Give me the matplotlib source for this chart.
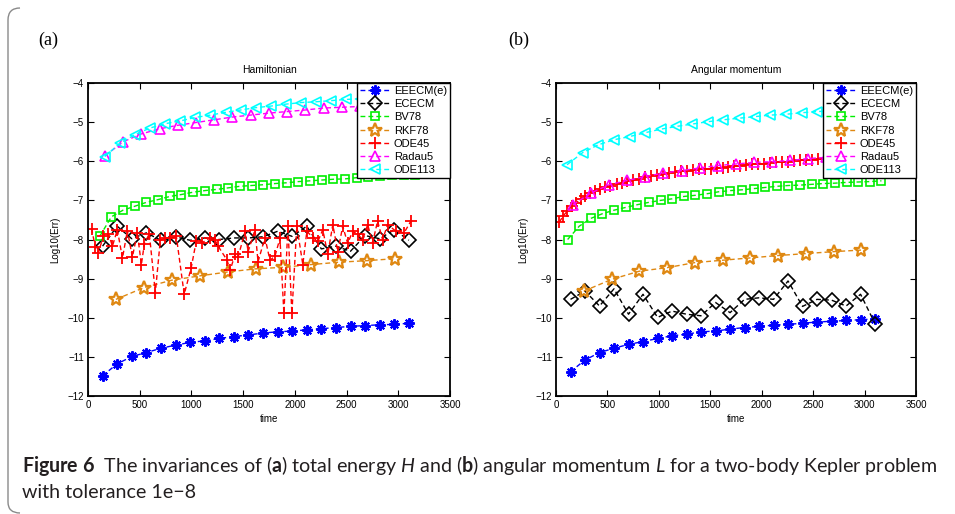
import matplotlib
matplotlib.use('Agg')
import matplotlib.pyplot as plt
from matplotlib.path import Path
from matplotlib.patches import PathPatch

# ---------------------------------------------------------------- data
methods = ['EEECM(e)', 'ECECM', 'BV78', 'RKF78', 'ODE45', 'Radau5', 'ODE113']

t_ee = [141, 282, 423, 564, 705, 846, 987, 1128, 1269, 1410, 1551, 1692,
        1833, 1974, 2115, 2256, 2397, 2538, 2679, 2820, 2961, 3102]
t_bv = [113, 226, 339, 452, 565, 678, 791, 904, 1017, 1130, 1243, 1356, 1469,
        1582, 1695, 1808, 1921, 2034, 2147, 2260, 2373, 2486, 2599, 2712,
        2825, 2938, 3051, 3164]
t_rk = [270, 540, 810, 1080, 1350, 1620, 1890, 2160, 2430, 2700, 2970]
t_ra = [165, 341, 517, 693, 869, 1045, 1221, 1397, 1573, 1749, 1925, 2101,
        2277, 2453, 2629, 2805, 2981, 3157]

# (a) Hamiltonian
ham_eeecm = [-11.48, -11.18, -10.99, -10.89, -10.78, -10.70, -10.63, -10.59,
             -10.53, -10.48, -10.44, -10.39, -10.36, -10.34, -10.31, -10.28,
             -10.25, -10.22, -10.20, -10.18, -10.17, -10.14]
ham_ececm = [-8.17, -7.66, -7.98, -7.83, -8.02, -7.93, -8.02, -7.96, -8.00,
             -7.96, -7.96, -7.93, -7.79, -7.92, -7.66, -8.24, -8.17, -8.30,
             -7.90, -7.98, -7.75, -8.02]
ham_bv78 = [-7.92, -7.42, -7.25, -7.15, -7.05, -6.98, -6.90, -6.85, -6.79,
            -6.75, -6.72, -6.68, -6.64, -6.62, -6.60, -6.57, -6.55, -6.52,
            -6.50, -6.48, -6.46, -6.45, -6.42, -6.39, -6.37, -6.36, -6.35,
            -6.34]
ham_rkf78 = [-9.53, -9.23, -9.04, -8.93, -8.83, -8.75, -8.71, -8.64, -8.58,
             -8.54, -8.49]
ham_t45 = [34, 72, 101, 149, 198, 236, 284, 333, 381, 429, 477, 516, 545, 593,
           651, 699, 747, 795, 853, 930, 998, 1046, 1104, 1181, 1229, 1258,
           1345, 1374, 1422, 1451, 1519, 1548, 1615, 1644, 1711, 1759, 1807,
           1856, 1894, 1933, 1971, 2019, 2077, 2116, 2174, 2222, 2270, 2318,
           2367, 2415, 2463, 2511, 2559, 2607, 2656, 2704, 2752, 2800, 2848,
           2897, 2978, 3056, 3124]
ham_ode45 = [-7.72, -8.20, -8.34, -7.90, -7.85, -8.17, -7.75, -8.48, -7.77,
             -8.45, -7.83, -8.64, -8.11, -7.85, -9.36, -8.02, -7.96, -7.96,
             -7.90, -9.40, -8.72, -8.05, -8.08, -7.96, -8.02, -8.17, -8.53,
             -8.79, -8.38, -8.45, -7.79, -8.31, -7.75, -8.57, -7.95, -8.53,
             -8.43, -7.97, -9.89, -7.66, -9.89, -7.66, -8.64, -7.79, -7.95,
             -8.05, -7.75, -8.38, -7.62, -8.31, -7.66, -8.10, -7.79, -7.87,
             -8.00, -7.62, -8.08, -7.53, -8.00, -7.62, -7.79, -7.83, -7.52]
ham_radau5 = [-5.86, -5.50, -5.30, -5.17, -5.08, -5.01, -4.94, -4.87, -4.82,
              -4.77, -4.73, -4.69, -4.64, -4.62, -4.60, -4.58, -4.56, -4.54]
ham_t113 = [162, 308, 454, 600, 746, 892, 1038, 1184, 1330, 1476, 1622, 1768,
            1914, 2060, 2206, 2352, 2498, 2644, 2790, 2936, 3082]
ham_ode113 = [-5.88, -5.54, -5.32, -5.15, -5.04, -4.97, -4.88, -4.82, -4.75,
              -4.69, -4.63, -4.59, -4.54, -4.50, -4.48, -4.45, -4.42, -4.40,
              -4.38, -4.36, -4.34]

# (b) Angular momentum
ang_eeecm = [-11.38, -11.08, -10.89, -10.78, -10.68, -10.61, -10.53, -10.46,
             -10.42, -10.36, -10.34, -10.29, -10.25, -10.22, -10.19, -10.17,
             -10.14, -10.11, -10.09, -10.07, -10.05, -10.03]
ang_ececm = [-9.53, -9.32, -9.70, -9.26, -9.91, -9.40, -9.99, -9.83, -9.91,
             -9.95, -9.61, -9.87, -9.53, -9.49, -9.53, -9.06, -9.71, -9.53,
             -9.55, -9.70, -9.40, -10.15]
ang_bv78 = [-8.00, -7.66, -7.46, -7.34, -7.25, -7.18, -7.11, -7.05, -7.00,
            -6.96, -6.90, -6.87, -6.83, -6.78, -6.75, -6.73, -6.70, -6.67,
            -6.64, -6.62, -6.61, -6.59, -6.57, -6.56, -6.54, -6.53, -6.52,
            -6.50]
ang_rkf78 = [-9.32, -9.02, -8.81, -8.72, -8.59, -8.53, -8.47, -8.41, -8.36,
             -8.31, -8.27]
ang_t45 = [32, 71, 110, 153, 194, 240, 282, 330, 379, 428, 476, 525, 590, 639,
           693, 751, 810, 865, 923, 981, 1039, 1097, 1155, 1213, 1271, 1329,
           1387, 1445, 1503, 1561, 1619, 1677, 1735, 1793, 1851, 1909, 1967,
           2025, 2083, 2141, 2199, 2257, 2315, 2373, 2431, 2489, 2547, 2605,
           2663]
ang_ode45 = [-7.56, -7.39, -7.28, -7.15, -7.07, -6.96, -6.90, -6.81, -6.77,
             -6.71, -6.66, -6.62, -6.58, -6.56, -6.51, -6.49, -6.45, -6.40,
             -6.37, -6.34, -6.32, -6.30, -6.28, -6.26, -6.25, -6.23, -6.21,
             -6.20, -6.19, -6.18, -6.17, -6.15, -6.13, -6.11, -6.10, -6.08,
             -6.07, -6.06, -6.05, -6.03, -6.02, -6.01, -6.00, -5.98, -5.97,
             -5.96, -5.95, -5.94, -5.93]
ang_radau5 = [-7.11, -6.81, -6.60, -6.49, -6.39, -6.30, -6.24, -6.17, -6.11,
              -6.07, -6.03, -6.01, -5.98, -5.93, -5.90, -5.88, -5.86, -5.84]
ang_t113 = [107, 259, 411, 563, 715, 867, 1019, 1171, 1323, 1475, 1627, 1779,
            1931, 2083, 2235, 2387, 2539, 2691, 2843, 2995, 3147]
ang_ode113 = [-6.09, -5.78, -5.58, -5.45, -5.37, -5.27, -5.18, -5.11, -5.05,
              -4.99, -4.94, -4.90, -4.86, -4.82, -4.80, -4.76, -4.73, -4.71,
              -4.69, -4.67, -4.65]

# ---------------------------------------------------------------- styles
W, H = 955, 514
fig = plt.figure(figsize=(W / 100, H / 100), dpi=100)
plt.rcParams['font.family'] = ['Liberation Sans', 'DejaVu Sans']

dash = (3.5, 2.2)
marks = [
    dict(color='#0000ff', marker=(8, 2, 0), ms=7.5, mew=1.5),
    dict(color='k', marker='D', ms=6.8, mew=1.2, mfc='none'),
    dict(color='#00ee00', marker='s', ms=6, mew=1.2, mfc='none'),
    dict(color='#df8812', marker='*', ms=10.5, mew=1.6, mfc='none'),
    dict(color='#ff0000', marker='+', ms=8, mew=1.3),
    dict(color='#ff00ff', marker='^', ms=7.5, mew=1.2, mfc='none'),
    dict(color='#00ffff', marker='<', ms=7.5, mew=1.2, mfc='none'),
]


def panel(rect, title, series):
    ax = fig.add_axes(rect)
    for (t, v), name, st in zip(series, methods, marks):
        ax.plot(t, v, ls='--', dashes=dash, lw=1.0, label=name, **st)
    ax.set_xlim(0, 3500)
    ax.set_ylim(-12, -4)
    ax.set_xticks(range(0, 3501, 500))
    ax.set_yticks(range(-12, -3))
    ax.tick_params(direction='in', top=True, right=True, length=4,
                   width=0.8, labelsize=7, pad=3)
    for s in ax.spines.values():
        s.set_linewidth(1.3)
    ax.set_title(title, fontsize=7.5, pad=7)
    ax.set_xlabel('time', fontsize=7, labelpad=3)
    ax.set_ylabel('Log10(Err)', fontsize=7, labelpad=5)
    leg = ax.legend(loc='upper right', fontsize=8, borderaxespad=0,
                    fancybox=False, edgecolor='k', framealpha=1,
                    handlelength=2.7, labelspacing=0.29, borderpad=0.26,
                    handletextpad=0.4)
    leg.get_frame().set_linewidth(1.0)
    return ax


panel([88 / W, 1 - 396 / H, 362 / W, 313 / H], 'Hamiltonian',
      [(t_ee, ham_eeecm), (t_ee, ham_ececm), (t_bv, ham_bv78),
       (t_rk, ham_rkf78), (ham_t45, ham_ode45), (t_ra, ham_radau5),
       (ham_t113, ham_ode113)])
panel([556 / W, 1 - 396 / H, 360 / W, 313 / H], 'Angular momentum',
      [(t_ee, ang_eeecm), (t_ee, ang_ececm), (t_bv, ang_bv78),
       (t_rk, ang_rkf78), (ang_t45, ang_ode45), (t_ra, ang_radau5),
       (ang_t113, ang_ode113)])

fig.text(38 / W, 1 - 40 / H, '(a)', fontsize=13, va='center',
         family='Liberation Serif')
fig.text(508 / W, 1 - 40 / H, '(b)', fontsize=13, va='center',
         family='Liberation Serif')

# caption
plt.rcParams['mathtext.fontset'] = 'custom'
plt.rcParams['mathtext.rm'] = 'Lato'
plt.rcParams['mathtext.bf'] = 'Lato:bold'
plt.rcParams['mathtext.it'] = 'Lato:italic'
line1 = (r'$\mathbf{Figure\ 6}$  The invariances of ($\mathbf{a}$) total '
         r'energy $\mathit{H}$ and ($\mathbf{b}$) angular momentum '
         r'$\mathit{L}$ for a two-body Kepler problem')
line2 = 'with tolerance 1e\u22128'
c1 = fig.text(22 / W, 1 - 472 / H, line1, fontsize=12, family='Lato',
              color='#231f20', va='baseline')
c2 = fig.text(22 / W, 1 - 498 / H, line2, fontsize=12, family='Lato',
              color='#231f20', va='baseline')
r = fig.canvas.get_renderer()
wd = c1.get_window_extent(r).width
fs = 12 * 916 / wd
c1.set_fontsize(fs)
c2.set_fontsize(fs)

# frame on the left side of the figure box
px = [(20, 8), (8, 8), (8, 20), (8, 502), (8, 513), (20, 513)]
verts = [(x / W, 1 - y / H) for x, y in px]
codes = [Path.MOVETO, Path.CURVE3, Path.CURVE3, Path.LINETO, Path.CURVE3,
         Path.CURVE3]
fig.patches.append(PathPatch(Path(verts, codes), transform=fig.transFigure,
                             fill=False, ec='#8a8a8a', lw=1.0))

fig.savefig('out.png', dpi=100)
